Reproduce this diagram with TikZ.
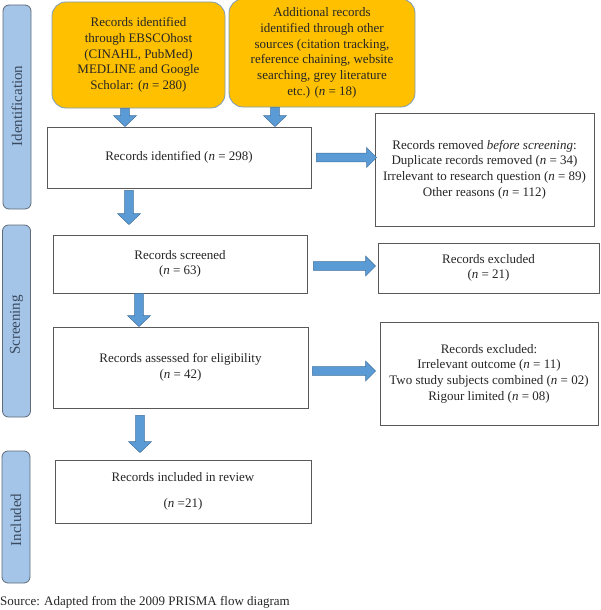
\documentclass[tikz,border=0pt]{standalone}
\usepackage{fontspec}
\setmainfont{Liberation Serif}
\usetikzlibrary{calc}
\definecolor{boxyellow}{HTML}{FFC000}
\definecolor{yedge}{HTML}{7F9DB9}
\definecolor{barblue}{HTML}{A4C4E8}
\definecolor{baredge}{HTML}{5F6B78}
\definecolor{bartext}{HTML}{3A4A5E}
\definecolor{arrowblue}{HTML}{5B9BD5}
\definecolor{arrowedge}{HTML}{41719C}
\definecolor{boxedge}{HTML}{595959}
\definecolor{txt}{HTML}{262626}
\newcommand\dnarrow[2]{%
  \path[fill=arrowblue,draw=arrowedge,line width=0.5pt] let \p1=(#1), \p2=(#2) in
    (\x1-4.3pt,\y1) -- (\x1-4.3pt,\y2+11pt) -- (\x1-11.5pt,\y2+11pt) -- (\x1,\y2)
    -- (\x1+11.5pt,\y2+11pt) -- (\x1+4.3pt,\y2+11pt) -- (\x1+4.3pt,\y1) -- cycle;}
\newcommand\rtarrow[2]{%
  \path[fill=arrowblue,draw=arrowedge,line width=0.5pt] let \p1=(#1), \p2=(#2) in
    (\x1,\y1-4.3pt) -- (\x2-10pt,\y1-4.3pt) -- (\x2-10pt,\y1-10pt) -- (\x2,\y1)
    -- (\x2-10pt,\y1+10pt) -- (\x2-10pt,\y1+4.3pt) -- (\x1,\y1+4.3pt) -- cycle;}
\begin{document}
\begin{tikzpicture}[x=1pt,y=-1pt,
  every node/.style={font=\fontsize{13}{15.7}\selectfont, text=txt, align=center, inner sep=0pt},
  ybox/.style={draw=yedge, line width=0.8pt, fill=boxyellow, rounded corners=14pt},
  wbox/.style={draw=boxedge, line width=0.8pt, fill=white},
  bar/.style={draw=baredge, line width=0.8pt, fill=barblue, rounded corners=6pt, minimum width=28pt},
  barlabel/.style={rotate=90, text=bartext, font=\fontsize{15}{16}\selectfont}]
\useasboundingbox (0,0) rectangle (600,610);
% phase bars
\node[bar, minimum height=204pt] (bar1) at (17,107) {};
\node[barlabel] (lab1) at (17,106) {Identification};
\node[bar, minimum height=192pt] (bar2) at (16.5,321) {};
\node[barlabel] (lab2) at (16.5,325) {Screening};
\node[bar, minimum height=132pt] (bar3) at (16,517) {};
\node[barlabel] (lab3) at (16,520) {Included};
% yellow boxes
\node[ybox, minimum width=173pt, minimum height=106pt] (b1) at (138.5,55)
  {Records identified\\ through EBSCOhost\\ (CINAHL, PubMed)\\ MEDLINE and Google\\ Scholar: (\textit{n} = 280)};
\node[ybox, minimum width=186pt, minimum height=108pt] (b2) at (322,53)
  {Additional records\\ identified through other\\ sources (citation tracking,\\ reference chaining, website\\ searching, grey literature\\ etc.) (\textit{n} = 18)};
% white boxes
\node[wbox, minimum width=264pt, minimum height=61pt] (rid) at (179,157.5) {Records identified (\textit{n} = 298)};
\node[wbox, minimum width=219pt, minimum height=113pt] (rem) at (484.5,169.5)
  {Records removed \textit{before screening}:\\ Duplicate records removed (\textit{n} = 34)\\ Irrelevant to research question (\textit{n} = 89)\\ Other reasons (\textit{n} = 112)};
\node[wbox, minimum width=254pt, minimum height=58pt] (scr) at (180,264) {Records screened\\ (\textit{n} = 63)};
\node[wbox, minimum width=221pt, minimum height=50pt] (ex1) at (488.5,268) {Records excluded\\ (\textit{n} = 21)};
\node[wbox, minimum width=255pt, minimum height=81pt] (ass) at (180.5,367.5) {Records assessed for eligibility\\ (\textit{n} = 42)};
\node[wbox, minimum width=218pt, minimum height=103pt] (ex2) at (489,373.5)
  {Records excluded:\\ Irrelevant outcome (\textit{n} = 11)\\ Two study subjects combined (\textit{n} = 02)\\ Rigour limited (\textit{n} = 08)};
\node[wbox, minimum width=256pt, minimum height=63pt] (inc) at (183,491.5) {Records included in review\\[10pt] (\textit{n} =21)};
% source
\node[anchor=base west] (src) at (0,605) {Source: Adapted from the 2009 PRISMA flow diagram};
% arrows
\dnarrow{[xshift=-13.5pt]b1.south}{rid.north}
\dnarrow{[xshift=-47pt]b2.south}{rid.north}
\rtarrow{[xshift=5pt]rid.east}{[xshift=2pt]rem.west|-rid.east}
\dnarrow{[xshift=-50pt,yshift=-2pt]rid.south}{[yshift=10pt]scr.north}
\rtarrow{[xshift=6pt,yshift=-2pt]scr.east}{[xshift=-2pt]ex1.west}
\dnarrow{[xshift=-41pt]scr.south}{ass.north}
\rtarrow{[xshift=4pt,yshift=-3.5pt]ass.east}{[xshift=-4pt]ex2.west}
\dnarrow{[xshift=-40.5pt,yshift=-7pt]ass.south}{[yshift=7pt]inc.north}
\end{tikzpicture}
\end{document}
